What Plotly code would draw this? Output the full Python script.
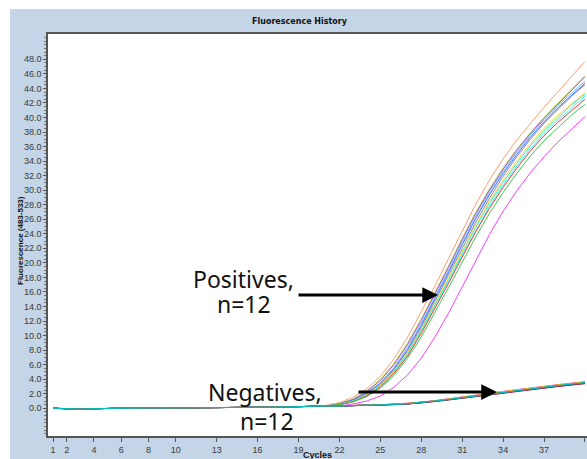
import plotly.graph_objects as go

# ---------------- data ----------------
cycles = list(range(1, 41))
x_tickvals = [1, 2, 4, 6, 8, 10, 13, 16, 19, 22, 25, 28, 31, 34, 37, 40]
x_ticktext = ["1", "2", "4", "6", "8", "10", "13", "16", "19", "22", "25", "28", "31", "34", "37", "40"]
y_tickvals = list(range(0, 50, 2))
y_ticktext = ["%.1f" % v for v in y_tickvals]

# cycles 1-20 (flat baseline shared by all wells)
early = [0.0, -0.1, -0.1, -0.05, 0.0, 0.0, 0.05, 0.05, 0.05, 0.05,
         0.1, 0.1, 0.1, 0.1, 0.15, 0.15, 0.15, 0.2, 0.2, 0.25]

# positives, cycles 21-40
pos_orange  = [0.4, 0.8, 1.5, 2.7, 4.4, 6.8, 9.8, 13.2, 16.8, 20.6, 24.4, 28.1, 31.4, 34.3, 36.9, 39.2, 41.4, 43.5, 45.6, 47.7]
pos_olive   = [0.3, 0.7, 1.3, 2.4, 4.0, 6.2, 9.0, 12.3, 15.9, 19.6, 23.4, 27.0, 30.2, 33.1, 35.6, 37.9, 40.0, 41.9, 43.8, 45.8]
pos_purple  = [0.3, 0.6, 1.2, 2.3, 3.8, 6.0, 8.8, 12.1, 15.7, 19.4, 23.2, 26.8, 30.0, 32.9, 35.5, 37.8, 39.9, 41.8, 43.7, 45.6]
pos_skyblue = [0.3, 0.6, 1.1, 2.1, 3.5, 5.6, 8.4, 11.7, 15.3, 19.0, 22.8, 26.4, 29.7, 32.6, 35.2, 37.6, 39.7, 41.6, 43.3, 45.0]
pos_blue    = [0.3, 0.6, 1.1, 2.0, 3.4, 5.4, 8.1, 11.4, 15.0, 18.7, 22.5, 26.1, 29.4, 32.3, 34.9, 37.3, 39.4, 41.3, 43.0, 44.7]
pos_grey    = [0.3, 0.5, 1.0, 1.9, 3.3, 5.3, 7.9, 11.1, 14.7, 18.3, 22.0, 25.6, 28.9, 31.9, 34.6, 37.0, 39.2, 41.1, 42.9, 44.5]
pos_yellow  = [0.3, 0.5, 1.0, 1.9, 3.2, 5.1, 7.7, 10.9, 14.4, 18.0, 21.6, 25.2, 28.5, 31.4, 34.0, 36.4, 38.5, 40.3, 41.9, 43.4]
pos_aqua    = [0.3, 0.5, 1.0, 1.8, 3.1, 5.0, 7.5, 10.7, 14.1, 17.7, 21.3, 24.9, 28.2, 31.1, 33.7, 36.1, 38.2, 40.0, 41.7, 43.2]
pos_cyan    = [0.3, 0.5, 0.9, 1.7, 3.0, 4.9, 7.4, 10.5, 13.9, 17.4, 21.0, 24.5, 27.8, 30.7, 33.3, 35.7, 37.8, 39.6, 41.3, 42.9]
pos_red     = [0.3, 0.5, 0.9, 1.7, 2.9, 4.8, 7.2, 10.3, 13.7, 17.2, 20.8, 24.3, 27.5, 30.4, 33.0, 35.4, 37.5, 39.3, 40.9, 42.5]
pos_green   = [0.3, 0.5, 0.9, 1.6, 2.8, 4.5, 6.9, 9.8, 13.1, 16.6, 20.1, 23.6, 26.8, 29.7, 32.3, 34.7, 36.8, 38.6, 40.3, 41.8]
pos_magenta = [0.2, 0.3, 0.6, 1.0, 1.7, 2.9, 4.6, 6.9, 9.8, 13.1, 16.7, 20.4, 23.9, 27.1, 29.9, 32.4, 34.6, 36.6, 38.4, 40.1]

# negatives, cycles 21-40
neg_1  = [0.30, 0.32, 0.36, 0.40, 0.45, 0.52, 0.62, 0.78, 0.98, 1.20, 1.45, 1.70, 1.95, 2.20, 2.45, 2.68, 2.90, 3.10, 3.30, 3.50]
neg_2  = [0.30, 0.33, 0.37, 0.42, 0.47, 0.55, 0.66, 0.82, 1.02, 1.25, 1.50, 1.76, 2.02, 2.27, 2.52, 2.76, 2.98, 3.18, 3.38, 3.58]
neg_3  = [0.28, 0.31, 0.35, 0.39, 0.44, 0.50, 0.60, 0.75, 0.94, 1.16, 1.40, 1.65, 1.90, 2.14, 2.38, 2.60, 2.82, 3.02, 3.22, 3.42]
neg_4  = [0.30, 0.32, 0.36, 0.41, 0.46, 0.53, 0.64, 0.80, 1.00, 1.23, 1.48, 1.73, 1.99, 2.24, 2.49, 2.72, 2.94, 3.15, 3.36, 3.62]
neg_5  = [0.29, 0.31, 0.35, 0.40, 0.45, 0.51, 0.61, 0.76, 0.96, 1.18, 1.43, 1.68, 1.93, 2.18, 2.42, 2.65, 2.87, 3.08, 3.28, 3.48]
neg_6  = [0.31, 0.34, 0.38, 0.43, 0.49, 0.57, 0.68, 0.85, 1.06, 1.29, 1.55, 1.81, 2.07, 2.33, 2.58, 2.82, 3.05, 3.26, 3.46, 3.66]
neg_7  = [0.30, 0.32, 0.36, 0.40, 0.45, 0.52, 0.63, 0.79, 0.99, 1.21, 1.46, 1.71, 1.96, 2.21, 2.46, 2.70, 2.92, 3.12, 3.32, 3.52]
neg_8  = [0.29, 0.31, 0.34, 0.38, 0.43, 0.49, 0.58, 0.73, 0.92, 1.14, 1.38, 1.62, 1.87, 2.11, 2.35, 2.57, 2.79, 2.99, 3.19, 3.38]
neg_9  = [0.30, 0.33, 0.37, 0.41, 0.46, 0.54, 0.65, 0.81, 1.01, 1.24, 1.49, 1.74, 2.00, 2.25, 2.50, 2.74, 2.96, 3.17, 3.37, 3.56]
neg_10 = [0.31, 0.33, 0.37, 0.42, 0.48, 0.56, 0.67, 0.83, 1.04, 1.27, 1.52, 1.78, 2.04, 2.30, 2.55, 2.79, 3.02, 3.23, 3.43, 3.63]
neg_11 = [0.29, 0.32, 0.35, 0.39, 0.44, 0.51, 0.61, 0.77, 0.97, 1.19, 1.44, 1.69, 1.94, 2.19, 2.43, 2.66, 2.88, 3.09, 3.29, 3.46]
neg_12 = [0.30, 0.32, 0.36, 0.40, 0.46, 0.53, 0.63, 0.79, 0.99, 1.22, 1.47, 1.72, 1.98, 2.23, 2.48, 2.71, 2.93, 3.14, 3.34, 3.54]

pos_colors = ["#ff9f70", "#c8dc5a", "#9b4fc0", "#6fb4ff", "#3f6bff", "#8a8aa8",
              "#ffd23c", "#3cf0b4", "#3cf5ff", "#ff3030", "#3cc850", "#ff3cff"]
neg_colors = ["#2020c0", "#000000", "#8040a0", "#c0c040", "#20a0ff", "#ff40ff",
              "#40c060", "#a02060", "#3060a0", "#f0c000", "#606060", "#00c0c0"]

positives = [pos_orange, pos_olive, pos_purple, pos_skyblue, pos_blue, pos_grey,
             pos_yellow, pos_aqua, pos_cyan, pos_red, pos_green, pos_magenta]
negatives = [neg_1, neg_2, neg_3, neg_4, neg_5, neg_6,
             neg_7, neg_8, neg_9, neg_10, neg_11, neg_12]

# ---------------- figure ----------------
W, H = 587, 459
L, R, T, B = 48, 0, 34, 23
pw, ph = W - L - R, H - T - B

def px(x):
    return (x - L) / pw

def py(y):
    return (H - B - y) / ph

fig = go.Figure()

for vals, col in zip(positives, pos_colors):
    fig.add_trace(go.Scatter(x=cycles, y=early + vals, mode="lines",
                             line=dict(color=col, width=1), showlegend=False,
                             hoverinfo="skip"))
for vals, col in zip(negatives, neg_colors):
    fig.add_trace(go.Scatter(x=cycles, y=early + vals, mode="lines",
                             line=dict(color=col, width=1), showlegend=False,
                             hoverinfo="skip"))

frame_blue = "#c3d5e6"
tick_font = dict(family="Liberation Sans, Arial, sans-serif", size=9, color="#3a3a3a")
label_font = dict(family="Noto Sans, DejaVu Sans, sans-serif", size=23, color="#111111")

fig.update_layout(
    width=W, height=H,
    margin=dict(l=L, r=R, t=T, b=B, pad=0),
    paper_bgcolor=frame_blue,
    plot_bgcolor="white",
    showlegend=False,
    xaxis=dict(range=[0.633, 40.15], tickmode="array", tickvals=x_tickvals,
               ticktext=x_ticktext, ticks="outside", ticklen=4, tickcolor="#555",
               tickfont=tick_font, showgrid=False, zeroline=False,
               showline=True, linecolor="#555", linewidth=1.5, mirror=True),
    yaxis=dict(range=[-3.81, 51.48], tickmode="array", tickvals=y_tickvals,
               ticktext=y_ticktext, ticks="outside", ticklen=3, tickcolor="#555",
               tickfont=tick_font, showgrid=False, zeroline=False,
               showline=True, linecolor="#555", linewidth=1.5,
               minor=dict(ticks="outside", ticklen=2, dtick=0.5, tickcolor="#777")),
    shapes=[
        dict(type="rect", xref="paper", yref="paper", x0=px(0), x1=px(W), y0=py(0), y1=py(9),
             fillcolor="white", line=dict(width=0), layer="below"),
        dict(type="rect", xref="paper", yref="paper", x0=px(0), x1=px(10), y0=py(0), y1=py(H),
             fillcolor="white", line=dict(width=0), layer="below"),
    ],
    annotations=[
        dict(text="<b>Fluorescence History</b>", xref="paper", yref="paper",
             x=px(300), y=py(21), showarrow=False, xanchor="center", yanchor="middle",
             font=dict(family="DejaVu Sans, sans-serif", size=8, color="#111")),
        dict(text="<b>Fluorescence (483-533)</b>", xref="paper", yref="paper",
             x=px(20), y=py(240), showarrow=False, textangle=-90,
             xanchor="center", yanchor="middle",
             font=dict(family="Liberation Sans, Arial, sans-serif", size=8, color="#111")),
        dict(text="<b>Cycles</b>", xref="paper", yref="paper",
             x=px(317), y=py(455), showarrow=False, xanchor="center", yanchor="middle",
             font=dict(family="Liberation Sans, Arial, sans-serif", size=9, color="#111")),
        # labels
        dict(text="Positives,", x=15.0, y=17.8, xref="x", yref="y", showarrow=False,
             xanchor="center", yanchor="middle", font=label_font),
        dict(text="n=12", x=15.0, y=14.3, xref="x", yref="y", showarrow=False,
             xanchor="center", yanchor="middle", font=label_font),
        dict(text="Negatives,", x=16.55, y=2.2, xref="x", yref="y", showarrow=False,
             xanchor="center", yanchor="middle", font=label_font),
        dict(text="n=12", x=16.7, y=-1.8, xref="x", yref="y", showarrow=False,
             xanchor="center", yanchor="middle", font=label_font),
        # arrows
        dict(text="", x=29.23, y=15.58, ax=18.89, ay=15.58, xref="x", yref="y",
             axref="x", ayref="y", showarrow=True, arrowhead=2, arrowsize=1.05,
             arrowwidth=3, arrowcolor="black", standoff=0, startstandoff=0),
        dict(text="", x=33.55, y=2.24, ax=23.29, ay=2.24, xref="x", yref="y",
             axref="x", ayref="y", showarrow=True, arrowhead=2, arrowsize=1.05,
             arrowwidth=3, arrowcolor="black", standoff=0, startstandoff=0),
    ],
)

fig.write_html("out.html",
               config={"displayModeBar": False},
               post_script="document.body.style.margin='0';document.body.style.overflow='hidden';")
